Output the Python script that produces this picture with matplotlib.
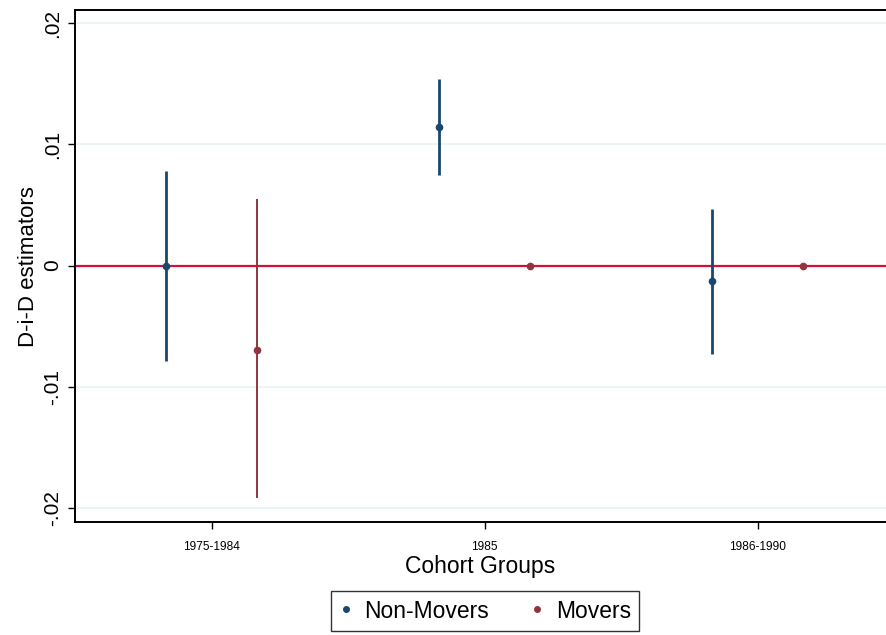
import numpy as np
import matplotlib.pyplot as plt
from matplotlib.lines import Line2D

plt.rcParams['font.family'] = ['Liberation Sans', 'DejaVu Sans']

groups = ['1975-1984', '1985', '1986-1990']

# point estimates and 95% CI bounds
non_movers = [0.0, 0.01143, -0.0013]
non_movers_lo = [-0.0079, 0.00744, -0.0073]
non_movers_hi = [0.0078, 0.01543, 0.00469]

movers = [-0.00694, 0.0, 0.0]
movers_lo = [-0.0192, 0.0, 0.0]
movers_hi = [0.00545, 0.0, 0.0]

yticks = [-0.02, -0.01, 0.0, 0.01, 0.02]
ytick_labels = ['-.02', '-.01', '0', '.01', '.02']

navy = '#1a476f'
maroon = '#90353b'

fig = plt.figure(figsize=(8.86, 6.35), dpi=100)
ax = fig.add_axes([0.0847, 0.178, 0.9153, 0.806])

x = np.arange(1, len(groups) + 1)
off = 1 / 6

for yv in yticks:
    ax.axhline(yv, color='#eaf2f3', lw=1.2, zorder=0)
ax.axhline(0, color='#d0103a', lw=1.6, zorder=1)

ax.vlines(x - off, non_movers_lo, non_movers_hi, color=navy, lw=2.0, zorder=2)
ax.plot(x - off, non_movers, 'o', color=navy, ms=4.5, zorder=3)
ax.vlines(x + off, movers_lo, movers_hi, color=maroon, lw=1.4, zorder=2)
ax.plot(x + off, movers, 'o', color=maroon, ms=4.5, zorder=3)

ax.set_xlim(0.5, 3.47)
ax.set_ylim(-0.02116, 0.02107)
ax.set_xticks(x)
ax.set_xticklabels(groups, fontsize=8.6)
ax.set_yticks(yticks)
ax.set_yticklabels(ytick_labels, fontsize=15, rotation=90, va='center')
ax.tick_params(axis='both', length=5, width=1, color='black')
ax.tick_params(axis='x', pad=9)
ax.tick_params(axis='y', pad=4)
ax.spines['right'].set_visible(False)
for s in ['left', 'top', 'bottom']:
    ax.spines[s].set_linewidth(1.4)

ax.set_xlabel('Cohort Groups', fontsize=16.5, labelpad=1)
ax.set_ylabel('D-i-D estimators', fontsize=16, labelpad=3)

handles = [Line2D([], [], ls='', marker='o', color=navy, ms=4),
           Line2D([], [], ls='', marker='o', color=maroon, ms=4)]
leg = fig.legend(handles, ['Non-Movers', 'Movers'], loc='center',
                 bbox_to_anchor=(485 / 886, 1 - 611 / 635), ncol=2,
                 fontsize=16.5, frameon=True, fancybox=False, edgecolor='black',
                 handlelength=0.6, handletextpad=0.5, columnspacing=1.8,
                 borderpad=0.35)
leg.get_frame().set_linewidth(1.0)

fig.savefig('out.png', dpi=100)
